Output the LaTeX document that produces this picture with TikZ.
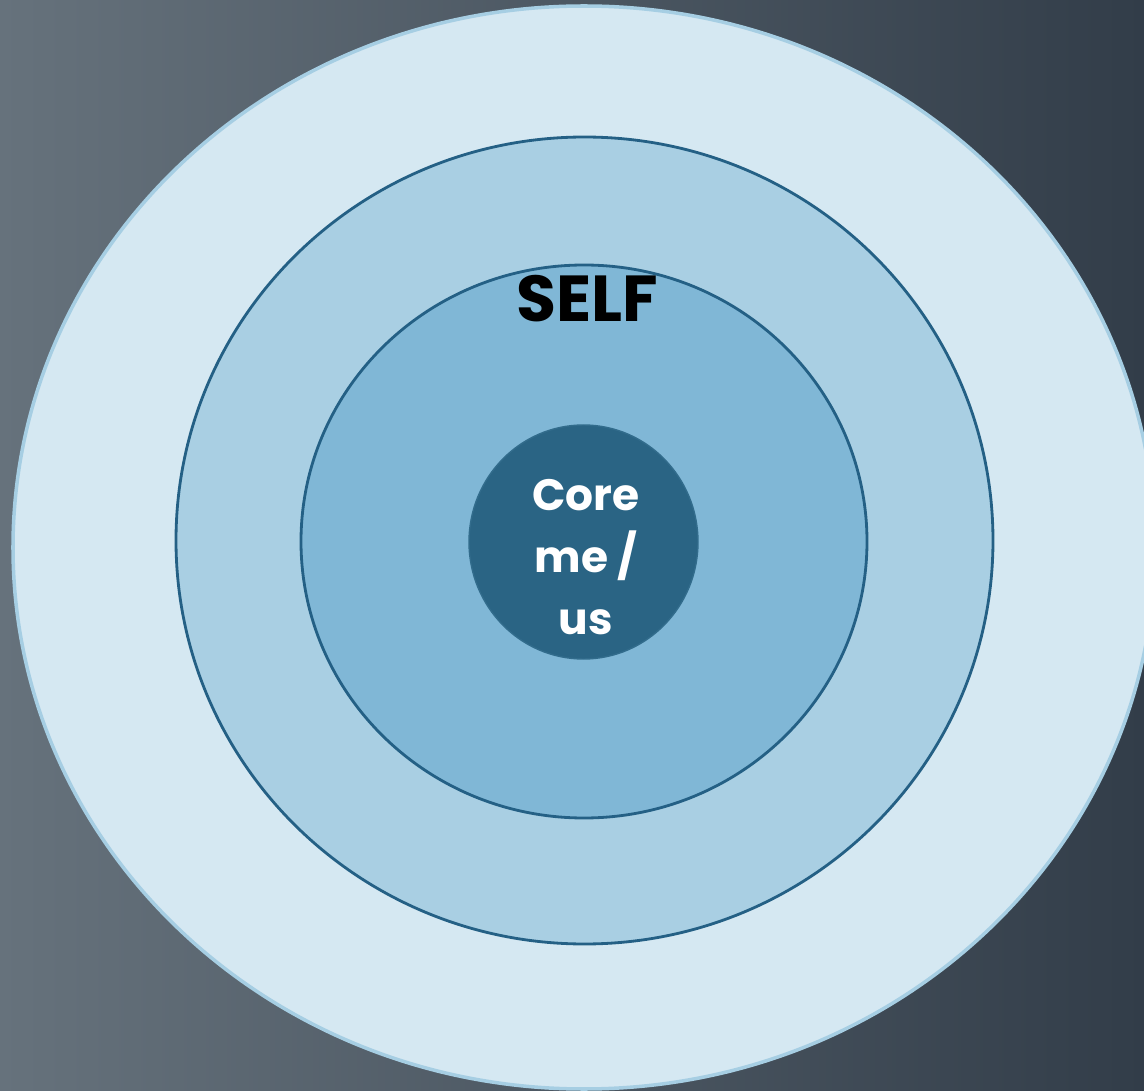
\documentclass[tikz,border=0pt]{standalone}
\usepackage{xcolor}
\usepackage{fontspec}
\setmainfont{Poppins}[BoldFont={* Bold}]
\usepackage{tikz}
\usetikzlibrary{positioning}
\definecolor{bgLight}{RGB}{102,114,124}
\definecolor{bgDark}{RGB}{50,61,73}
\definecolor{ringOuter}{RGB}{213,232,242}
\definecolor{ringOuterLine}{RGB}{166,206,227}
\definecolor{ringMid}{RGB}{169,207,227}
\definecolor{ringInner}{RGB}{128,183,214}
\definecolor{ringLine}{RGB}{36,96,133}
\definecolor{coreFill}{RGB}{42,100,132}
\definecolor{coreLine}{RGB}{50,108,140}
\tikzset{%
  % Specifications for style of rings:
  ring/.style = {draw=ringLine, line width=1.6pt},
  outerring/.style = {fill=ringOuter, draw=ringOuterLine, line width=2pt},
  midring/.style = {ring, fill=ringMid},
  innerring/.style = {ring, fill=ringInner},
  corering/.style = {fill=coreFill, draw=coreLine, line width=0.8pt},
  % Specifications for style of labels:
  selflabel/.style = {text=black, font=\fontsize{37}{40}\selectfont\bfseries,
    inner sep=0pt},
  corelabel/.style = {text=white, align=center, inner sep=0pt,
    font=\fontsize{25}{35.5}\selectfont\bfseries},
}

\begin{document}
\begin{tikzpicture}[x=0.02cm, y=-0.02cm]
    \useasboundingbox (0,0) rectangle (1144,1091);
    \clip (0,0) rectangle (1144,1091);
    % Background
    \shade[left color=bgLight, right color=bgDark] (0,0) rectangle (1144,1091);
    % Rings, from outside to inside
    \draw[outerring] (584,547.5) ellipse [x radius=571, y radius=541.5];
    \draw[midring] (584.5,540.5) ellipse [x radius=408.5, y radius=403.5];
    \draw[innerring] (584,541.5) ellipse [x radius=283, y radius=276.5];
    \draw[corering] (583.5,542) ellipse [x radius=114.5, y radius=117];
    % Labels
    \node(Self)[selflabel, anchor=base] at (587,322) {SELF};
    \node(Core)[corelabel] at (586,557) {Core\\ me /\\ us};
\end{tikzpicture}
\end{document}
